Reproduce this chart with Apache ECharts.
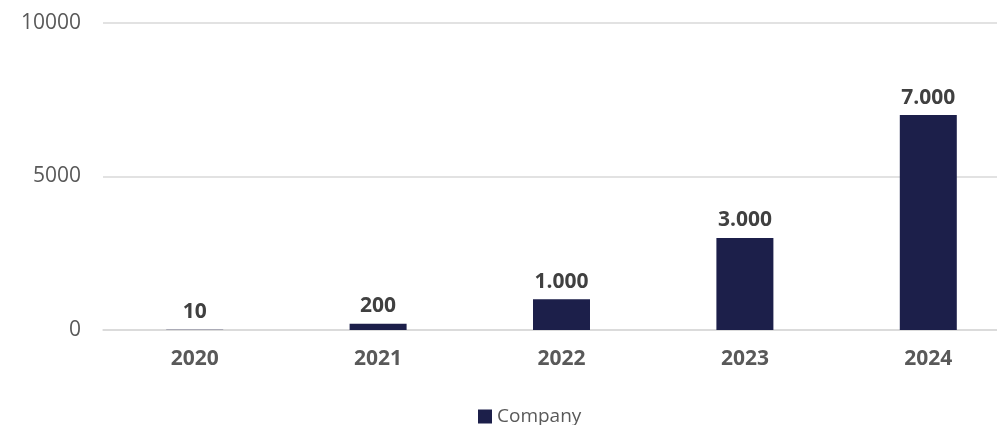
<!DOCTYPE html>
<html>
<head>
<meta charset="utf-8">
<title>Company</title>
<script src="https://cdn.jsdelivr.net/npm/echarts@6/dist/echarts.min.js"></script>
<style>
  html, body { margin: 0; padding: 0; background: #fff; }
  #chart { width: 997px; height: 425px; }
</style>
</head>
<body>
<div id="chart"></div>
<script>
// data
const years = ['2020', '2021', '2022', '2023', '2024']
const companyValues = [10, 200, 1000, 3000, 7000]
const yTicks = [0, 5000, 10000]

// 1000 -> "1.000"
function fmtDots(v) {
  return String(v).replace(/\B(?=(\d{3})+(?!\d))/g, '.')
}

const font = '"Open Sans", sans-serif'
const chart = echarts.init(document.getElementById('chart'))
const option = {
  animation: false,
  textStyle: { fontFamily: font },
  grid: { left: 103, width: 917, top: 23, bottom: 95, outerBoundsMode: 'none' },
  legend: {
    data: ['Company'],
    top: 402,
    left: 473,
    icon: 'rect',
    itemWidth: 14,
    itemHeight: 14,
    itemGap: 6,
    textStyle: { color: '#595959', fontSize: 19, fontFamily: font }
  },
  xAxis: {
    type: 'category',
    data: years,
    axisLine: { show: true, lineStyle: { color: '#d9d9d9', width: 1.5 } },
    axisTick: { show: false },
    axisLabel: { color: '#595959', fontSize: 21, fontWeight: 'bold', margin: 19 }
  },
  yAxis: {
    type: 'value',
    min: yTicks[0],
    max: yTicks[yTicks.length - 1],
    interval: yTicks[1] - yTicks[0],
    axisLine: { show: false },
    axisTick: { show: false },
    splitLine: { lineStyle: { color: '#d9d9d9', width: 1.5 } },
    axisLabel: { color: '#595959', fontSize: 21, margin: 22, formatter: v => String(v) }
  },
  series: [
    {
      name: 'Company',
      type: 'bar',
      data: companyValues,
      barWidth: 57,
      itemStyle: { color: '#1c1f4a' },
      label: {
        show: true,
        position: 'top',
        distance: 7,
        color: '#404040',
        fontSize: 21,
        fontWeight: 'bold',
        formatter: p => fmtDots(p.value)
      }
    }
  ]
}
chart.setOption(option)
</script>
</body>
</html>
